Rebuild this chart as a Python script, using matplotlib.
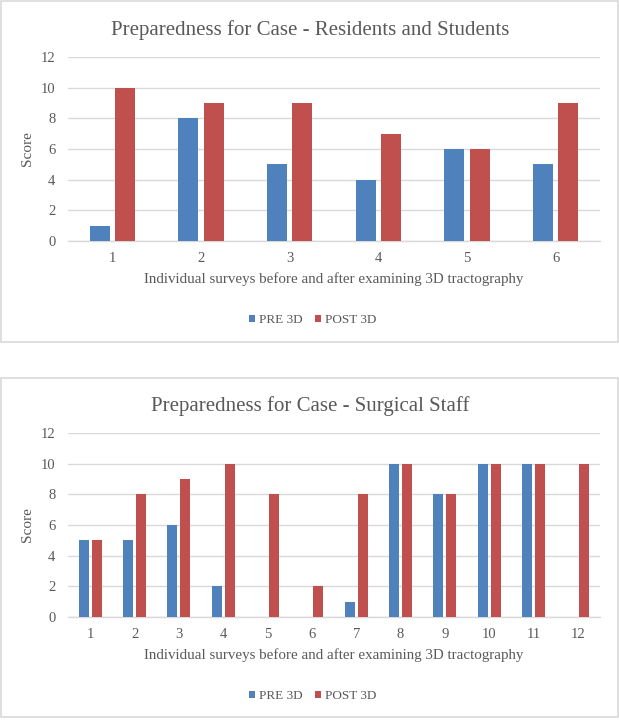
import matplotlib
matplotlib.use("Agg")
import matplotlib.pyplot as plt
import numpy as np
from matplotlib.patches import Rectangle

plt.rcParams['font.family'] = ['Liberation Serif', 'DejaVu Serif']

# donnees
cats_top = ["1", "2", "3", "4", "5", "6"]
pre_top = [1, 8, 5, 4, 6, 5]
post_top = [10, 9, 9, 7, 6, 9]

cats_bot = [str(i) for i in range(1, 13)]
pre_bot = [5, 5, 6, 2, 0, 0, 1, 10, 8, 10, 10, 0]
post_bot = [5, 8, 9, 10, 8, 2, 8, 10, 8, 10, 10, 10]

titles = ["Preparedness for Case - Residents and Students",
          "Preparedness for Case - Surgical Staff"]
xlabel = "Individual surveys before and after examining 3D tractography"
series_names = ["PRE 3D", "POST 3D"]

BLUE = "#4F81BD"
RED = "#C0504D"
GRAY = "#595959"
GRID = "#D9D9D9"

W, H = 619, 720
fig = plt.figure(figsize=(W / 100, H / 100), dpi=100)

# cadres des deux graphiques
for (y0, y1) in [(1, 342), (378, 717)]:
    fig.patches.append(Rectangle((1 / W, 1 - y1 / H), 617 / W, (y1 - y0) / H,
                                 transform=fig.transFigure, fill=False,
                                 edgecolor=GRID, linewidth=1.2))


def draw_chart(ax, cats, pre, post, title):
    x = np.arange(len(cats))
    ax.bar(x - 0.144, pre, width=0.225, color=BLUE, label=series_names[0], zorder=3)
    ax.bar(x + 0.144, post, width=0.225, color=RED, label=series_names[1], zorder=3)
    ax.set_xlim(-0.5, len(cats) - 0.5)
    ax.set_ylim(0, 12)
    ax.set_yticks(range(0, 13, 2))
    ax.set_xticks(x)
    ax.set_xticklabels(cats)
    ax.yaxis.grid(True, color=GRID, linewidth=1.0, zorder=0)
    ax.set_axisbelow(True)
    for s in ["top", "right", "left"]:
        ax.spines[s].set_visible(False)
    ax.spines["bottom"].set_color(GRID)
    ax.spines["bottom"].set_linewidth(1.0)
    ax.tick_params(axis="both", length=0, colors=GRAY, labelsize=10.5)
    ax.tick_params(axis="y", pad=9)
    ax.tick_params(axis="x", pad=8)
    ax.set_ylabel("Score", color=GRAY, fontsize=11, labelpad=5)
    ax.set_xlabel(xlabel, color=GRAY, fontsize=10.8, labelpad=5)
    # titre centre sur le cadre, pas sur les axes
    ax.set_title(title, color=GRAY, fontsize=15, pad=16, x=0.455)
    ax.legend(loc="center", bbox_to_anchor=(0.46, -0.43), ncol=2, frameon=False,
              fontsize=9.5, labelcolor=GRAY, handlelength=0.5, handleheight=0.5,
              handletextpad=0.3, columnspacing=0.9)


ax1 = fig.add_axes([68 / W, 1 - 241 / H, 532 / W, 184 / H])
draw_chart(ax1, cats_top, pre_top, post_top, titles[0])

ax2 = fig.add_axes([68 / W, 1 - 617 / H, 532 / W, 184 / H])
draw_chart(ax2, cats_bot, pre_bot, post_bot, titles[1])

fig.savefig("out.png", dpi=100)
